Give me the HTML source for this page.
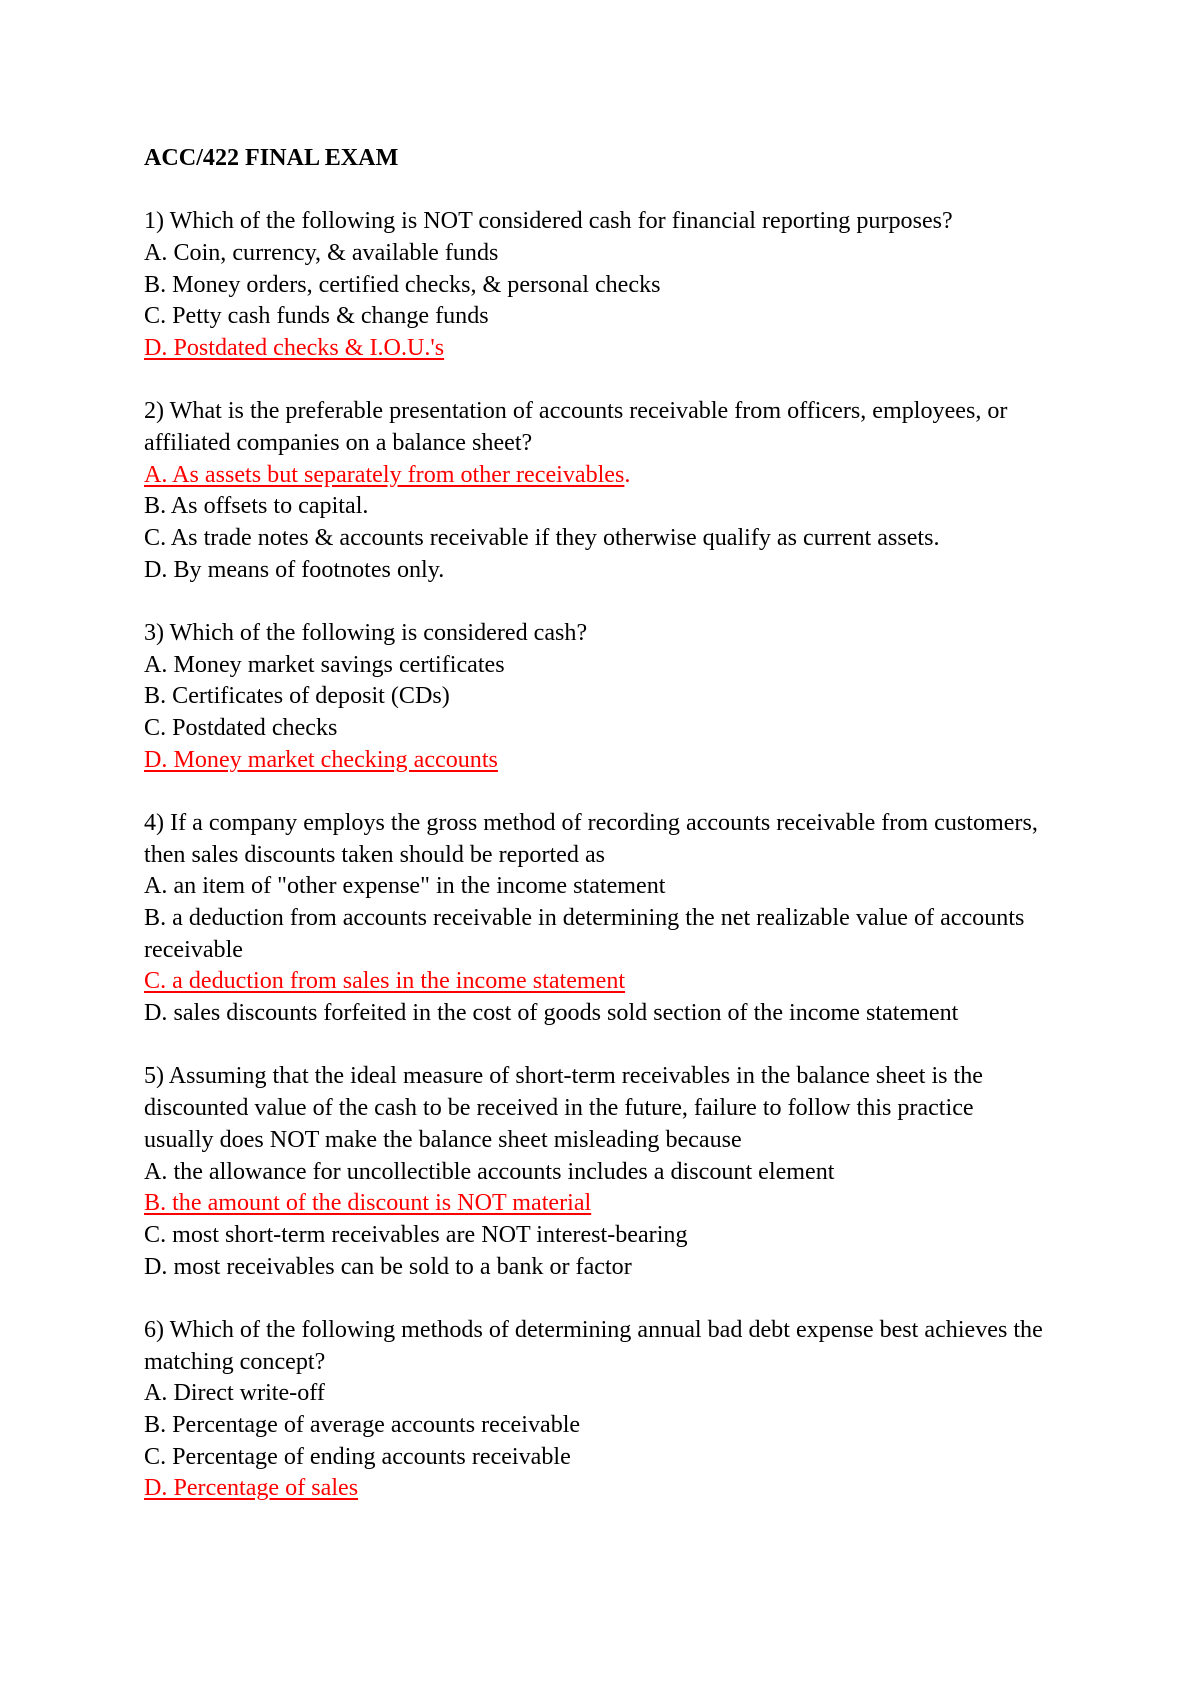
<!DOCTYPE html>
<html><head><meta charset="utf-8"><style>
html,body{margin:0;padding:0;background:#fff;}
body{width:1190px;height:1683px;position:relative;overflow:hidden;font-family:"Liberation Serif","Times New Roman",serif;font-size:24.1px;color:#000;}
#c{position:absolute;left:144px;top:143px;}
#c div{height:31.68px;line-height:31.68px;white-space:nowrap;}
.t{font-weight:bold;}
.r{color:#f00;text-decoration:underline;text-underline-offset:3px;}
</style></head><body><div id="c">
<div class="t">ACC/422 FINAL EXAM</div>
<div></div>
<div>1) Which of the following is NOT considered cash for financial reporting purposes?</div>
<div>A. Coin, currency, &amp; available funds</div>
<div>B. Money orders, certified checks, &amp; personal checks</div>
<div>C. Petty cash funds &amp; change funds</div>
<div><span class="r">D. Postdated checks &amp; I.O.U.'s</span></div>
<div></div>
<div>2) What is the preferable presentation of accounts receivable from officers, employees, or</div>
<div>affiliated companies on a balance sheet?</div>
<div><span class="r">A. As assets but separately from other receivables</span><span style="color:#f00">.</span></div>
<div>B. As offsets to capital.</div>
<div>C. As trade notes &amp; accounts receivable if they otherwise qualify as current assets.</div>
<div>D. By means of footnotes only.</div>
<div></div>
<div>3) Which of the following is considered cash?</div>
<div>A. Money market savings certificates</div>
<div>B. Certificates of deposit (CDs)</div>
<div>C. Postdated checks</div>
<div><span class="r">D. Money market checking accounts</span></div>
<div></div>
<div>4) If a company employs the gross method of recording accounts receivable from customers,</div>
<div>then sales discounts taken should be reported as</div>
<div>A. an item of "other expense" in the income statement</div>
<div>B. a deduction from accounts receivable in determining the net realizable value of accounts</div>
<div>receivable</div>
<div><span class="r">C. a deduction from sales in the income statement</span></div>
<div>D. sales discounts forfeited in the cost of goods sold section of the income statement</div>
<div></div>
<div>5) Assuming that the ideal measure of short-term receivables in the balance sheet is the</div>
<div>discounted value of the cash to be received in the future, failure to follow this practice</div>
<div>usually does NOT make the balance sheet misleading because</div>
<div>A. the allowance for uncollectible accounts includes a discount element</div>
<div><span class="r">B. the amount of the discount is NOT material</span></div>
<div>C. most short-term receivables are NOT interest-bearing</div>
<div>D. most receivables can be sold to a bank or factor</div>
<div></div>
<div>6) Which of the following methods of determining annual bad debt expense best achieves the</div>
<div>matching concept?</div>
<div>A. Direct write-off</div>
<div>B. Percentage of average accounts receivable</div>
<div>C. Percentage of ending accounts receivable</div>
<div><span class="r">D. Percentage of sales</span></div>
</div></body></html>
